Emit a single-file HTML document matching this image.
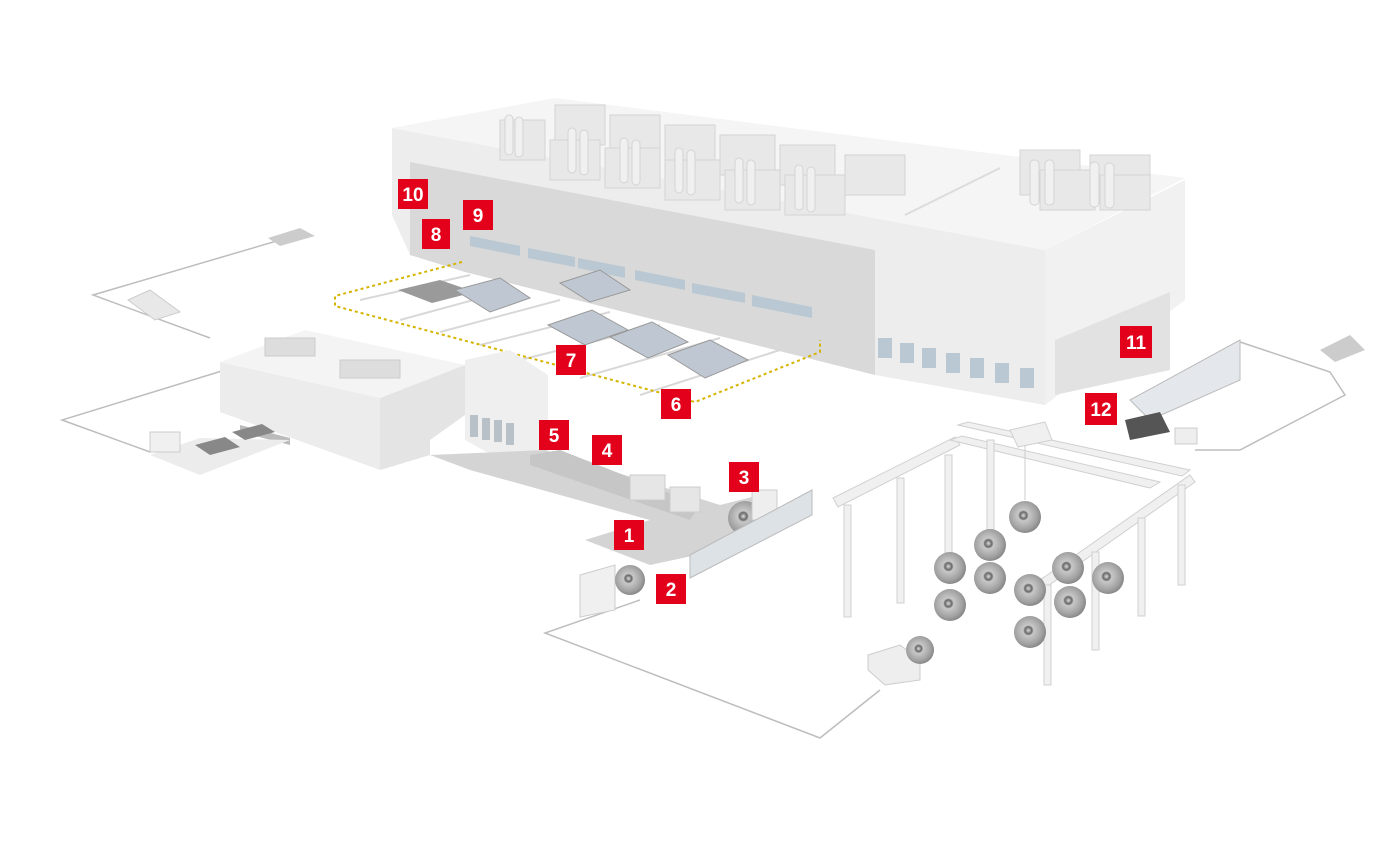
<!DOCTYPE html>
<html><head><meta charset="utf-8"><style>
html,body{margin:0;padding:0;background:#fff;}
svg{display:block}
.lb rect{fill:#e2001a}
.lb text{fill:#fff;font-family:"Liberation Sans",sans-serif;font-weight:bold;font-size:19px;text-anchor:middle}
</style></head><body>
<svg width="1400" height="850" viewBox="0 0 1400 850" xmlns="http://www.w3.org/2000/svg">
<defs>
<radialGradient id="coil" cx="45%" cy="45%" r="55%">
<stop offset="0" stop-color="#ddd"/><stop offset="0.2" stop-color="#666"/><stop offset="0.3" stop-color="#c8c8c8"/><stop offset="0.8" stop-color="#a0a0a0"/><stop offset="1" stop-color="#888"/>
</radialGradient>
</defs>
<!-- boundary lines -->
<g fill="none" stroke="#bdbdbd" stroke-width="1.5">
<polyline points="280,240 93,295 210,338"/>
<polyline points="225,370 62,420 150,452"/>
<polyline points="640,600 545,633 820,738 880,690"/>
<polyline points="1195,450 1240,450 1345,395 1330,372 1240,342"/>
</g>
<!-- main building -->
<polygon points="392,128 555,98 1185,178 1045,250" fill="#f5f5f5"/>
<line x1="1000" y1="168" x2="905" y2="215" stroke="#dcdcdc" stroke-width="2"/>
<polygon points="392,128 1045,250 1045,405 875,375 410,255 392,215" fill="#ededed"/>
<polygon points="410,162 875,250 875,375 465,272 410,255" fill="#d9d9d9"/>
<polygon points="1045,250 1185,180 1185,300 1045,405" fill="#f1f1f1"/>
<polygon points="1055,340 1170,292 1170,370 1055,395" fill="#e2e2e2"/>
<g fill="#b9c8d2">
<polygon points="470,236 520,246 520,256 470,246"/>
<polygon points="528,248 575,257 575,267 528,258"/>
<polygon points="578,258 625,267 625,278 578,268"/>
<polygon points="635,270 685,280 685,290 635,280"/>
<polygon points="692,283 745,293 745,303 692,293"/>
<polygon points="752,295 812,307 812,318 752,306"/>
</g>
<g fill="#b9c8d2">
<rect x="878" y="338" width="14" height="20"/><rect x="900" y="343" width="14" height="20"/><rect x="922" y="348" width="14" height="20"/><rect x="946" y="353" width="14" height="20"/><rect x="970" y="358" width="14" height="20"/><rect x="995" y="363" width="14" height="20"/><rect x="1020" y="368" width="14" height="20"/>
</g>
<g fill="#e8e8e8" stroke="#d4d4d4">
<rect x="500" y="120" width="45" height="40"/><rect x="555" y="105" width="50" height="40"/><rect x="610" y="115" width="50" height="40"/><rect x="665" y="125" width="50" height="40"/><rect x="720" y="135" width="55" height="40"/><rect x="780" y="145" width="55" height="40"/><rect x="845" y="155" width="60" height="40"/>
<rect x="550" y="140" width="50" height="40"/><rect x="605" y="148" width="55" height="40"/><rect x="665" y="160" width="55" height="40"/><rect x="725" y="170" width="55" height="40"/><rect x="785" y="175" width="60" height="40"/>
<rect x="1020" y="150" width="60" height="45"/><rect x="1090" y="155" width="60" height="40"/><rect x="1040" y="170" width="55" height="40"/><rect x="1100" y="175" width="50" height="35"/>
</g>
<g fill="#f0f0f0" stroke="#d4d4d4">
<rect x="505" y="115" width="8" height="40" rx="4"/><rect x="515" y="117" width="8" height="40" rx="4"/>
<rect x="568" y="128" width="8" height="45" rx="4"/><rect x="580" y="130" width="8" height="45" rx="4"/>
<rect x="620" y="138" width="8" height="45" rx="4"/><rect x="632" y="140" width="8" height="45" rx="4"/>
<rect x="675" y="148" width="8" height="45" rx="4"/><rect x="687" y="150" width="8" height="45" rx="4"/>
<rect x="735" y="158" width="8" height="45" rx="4"/><rect x="747" y="160" width="8" height="45" rx="4"/>
<rect x="795" y="165" width="8" height="45" rx="4"/><rect x="807" y="167" width="8" height="45" rx="4"/>
<rect x="1030" y="160" width="9" height="45" rx="4"/><rect x="1045" y="160" width="9" height="45" rx="4"/><rect x="1090" y="162" width="9" height="45" rx="4"/><rect x="1105" y="163" width="9" height="45" rx="4"/>
</g>
<!-- parking area -->
<g stroke="#d8d8d8" stroke-width="2">
<line x1="360" y1="300" x2="470" y2="275"/><line x1="400" y1="320" x2="510" y2="290"/><line x1="440" y1="332" x2="560" y2="300"/><line x1="480" y1="345" x2="610" y2="312"/><line x1="520" y1="360" x2="660" y2="325"/><line x1="580" y1="378" x2="720" y2="338"/><line x1="640" y1="395" x2="780" y2="350"/>
</g>
<g fill="none" stroke="#d4b400" stroke-width="2" stroke-dasharray="3,3">
<polyline points="462,262 335,296 335,306 695,402 820,352 820,340"/>
</g>
<g>
<polygon points="398,290 440,280 475,292 432,303" fill="#9a9a9a"/>
<polygon points="455,290 500,278 530,298 490,312" fill="#bfc8d2" stroke="#999"/>
<polygon points="560,283 600,270 630,290 590,302" fill="#bfc8d2" stroke="#999"/>
<polygon points="548,325 592,310 628,330 585,345" fill="#bfc8d2" stroke="#999"/>
<polygon points="610,337 652,322 688,342 648,358" fill="#bfc8d2" stroke="#999"/>
<polygon points="668,355 710,340 748,360 705,378" fill="#bfc8d2" stroke="#999"/>
</g>
<!-- small left building -->
<polygon points="220,362 305,330 465,365 380,398" fill="#f4f4f4"/>
<polygon points="220,362 380,398 380,470 220,412" fill="#ececec"/>
<polygon points="380,398 465,365 465,415 430,440 430,455 380,470" fill="#e4e4e4"/>
<polygon points="465,360 510,350 548,375 548,465 510,465 465,440" fill="#efefef"/>
<g fill="#b8c0c8"><rect x="470" y="415" width="8" height="22"/><rect x="482" y="418" width="8" height="22"/><rect x="494" y="420" width="8" height="22"/><rect x="506" y="423" width="8" height="22"/></g>
<polygon points="240,425 290,438 290,445 240,432" fill="#bbb"/>
<g fill="#ddd" stroke="#ccc"><rect x="265" y="338" width="50" height="18"/><rect x="340" y="360" width="60" height="18"/></g>
<polygon points="150,455 200,438 290,440 200,475" fill="#ececec"/>
<polygon points="195,445 225,437 240,447 210,455" fill="#888"/>
<polygon points="232,432 262,424 275,432 245,440" fill="#888"/>
<rect x="150" y="432" width="30" height="20" fill="#f0f0f0" stroke="#ccc"/>
<!-- line platform -->
<polygon points="430,455 545,450 720,505 760,495 720,550 650,565 585,540 650,520 470,470" fill="#d4d4d4"/>
<polygon points="530,455 560,450 700,505 690,520 530,465" fill="#c6c6c6"/>
<rect x="630" y="475" width="35" height="25" fill="#e6e6e6" stroke="#ccc"/>
<rect x="670" y="487" width="30" height="25" fill="#e6e6e6" stroke="#ccc"/>
<circle cx="745" cy="518" r="17" fill="url(#coil)"/>
<rect x="752" y="490" width="25" height="30" fill="#eee" stroke="#ccc"/>
<polygon points="690,555 812,490 812,515 690,578" fill="#dde2e6" stroke="#bbb"/>
<polygon points="580,575 615,565 615,610 580,617" fill="#f0f0f0" stroke="#ccc"/>
<circle cx="630" cy="580" r="15" fill="url(#coil)"/>
<!-- crane -->
<g fill="#f0f0f0" stroke="#d0d0d0">
<polygon points="833,498 955,437 960,445 838,507"/>
<polygon points="1040,580 1190,475 1195,482 1045,588"/>
<polygon points="958,425 968,422 1190,470 1182,476"/>
<polygon points="950,440 962,436 1160,482 1150,488"/>
<polygon points="1010,430 1045,422 1052,440 1018,447"/>
<rect x="844" y="505" width="7" height="112"/>
<rect x="897" y="478" width="7" height="125"/>
<rect x="945" y="455" width="7" height="118"/>
<rect x="987" y="440" width="7" height="90"/>
<rect x="1044" y="585" width="7" height="100"/>
<rect x="1092" y="552" width="7" height="98"/>
<rect x="1138" y="518" width="7" height="98"/>
<rect x="1178" y="485" width="7" height="100"/>
</g>
<line x1="1025" y1="445" x2="1025" y2="500" stroke="#ccc"/>
<g fill="url(#coil)">
<circle cx="1025" cy="517" r="16"/><circle cx="990" cy="545" r="16"/><circle cx="950" cy="568" r="16"/><circle cx="990" cy="578" r="16"/>
<circle cx="1030" cy="590" r="16"/><circle cx="1068" cy="568" r="16"/><circle cx="1108" cy="578" r="16"/><circle cx="950" cy="605" r="16"/>
<circle cx="1070" cy="602" r="16"/><circle cx="1030" cy="632" r="16"/>
</g>
<polygon points="868,655 900,645 920,660 920,680 885,685 868,670" fill="#eee" stroke="#ccc"/>
<circle cx="920" cy="650" r="14" fill="url(#coil)"/>
<!-- right cell -->
<polygon points="1130,400 1240,340 1240,380 1150,420" fill="#e4e8ec" stroke="#bbb"/>
<polygon points="1125,420 1160,412 1170,432 1130,440" fill="#555"/>
<rect x="1175" y="428" width="22" height="16" fill="#eee" stroke="#ccc"/>
<polygon points="1320,350 1350,335 1365,350 1335,362" fill="#ccc"/>
<polygon points="268,238 300,228 315,236 280,246" fill="#ccc"/>
<polygon points="128,300 150,290 180,312 155,320" fill="#e8e8e8" stroke="#ccc"/>
<!-- labels -->
<g class="lb">
<rect x="398" y="179" width="30" height="30"/><text x="413" y="201">10</text>
<rect x="422" y="219" width="28" height="30"/><text x="436" y="241">8</text>
<rect x="463" y="200" width="30" height="30"/><text x="478" y="222">9</text>
<rect x="556" y="345" width="30" height="30"/><text x="571" y="367">7</text>
<rect x="661" y="389" width="30" height="30"/><text x="676" y="411">6</text>
<rect x="539" y="420" width="30" height="30"/><text x="554" y="442">5</text>
<rect x="592" y="435" width="30" height="30"/><text x="607" y="457">4</text>
<rect x="729" y="462" width="30" height="30"/><text x="744" y="484">3</text>
<rect x="614" y="520" width="30" height="30"/><text x="629" y="542">1</text>
<rect x="656" y="574" width="30" height="30"/><text x="671" y="596">2</text>
<rect x="1120" y="326" width="32" height="32"/><text x="1136" y="349">11</text>
<rect x="1085" y="393" width="32" height="32"/><text x="1101" y="416">12</text>
</g>
</svg>
</body></html>
